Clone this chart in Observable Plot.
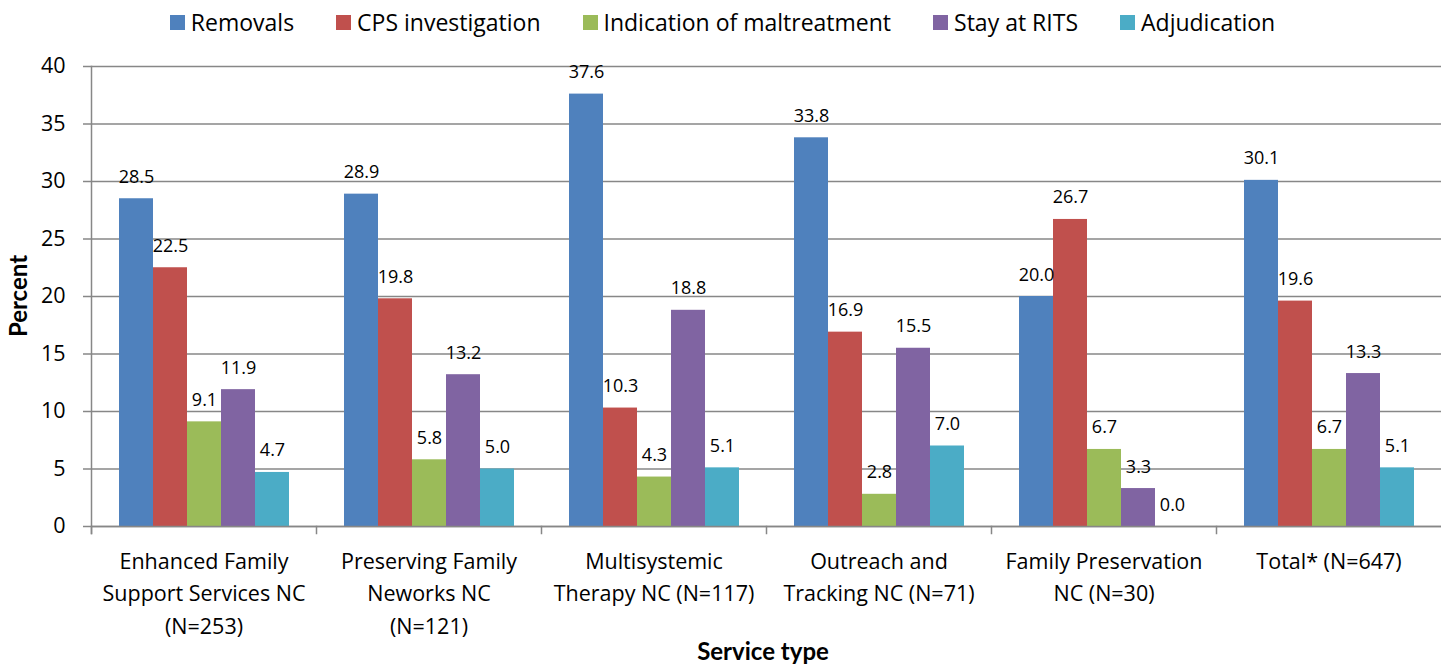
<!DOCTYPE html>
<html>
<head>
<meta charset="utf-8">
<script src="https://cdn.jsdelivr.net/npm/d3@7"></script>
<script src="https://cdn.jsdelivr.net/npm/@observablehq/plot@0.6"></script>
<style>
  html, body { margin: 0; padding: 0; background: #fff; }
  #chart { position: relative; width: 1445px; height: 666px; font-family: "Open Sans", sans-serif; color: #000; }
  #legend { display: flex; justify-content: center; align-items: center; height: 44px; gap: 42px; font-size: 23px; }
  #legend .item { display: flex; align-items: center; gap: 6px; white-space: nowrap; }
  #legend .sw { width: 15px; height: 15px; display: inline-block; }
  .title { position: absolute; font-family: Lato, sans-serif; font-weight: bold; font-size: 24px; white-space: nowrap; }
  #ytitle { left: 17px; top: 296px; transform: translate(-50%, -50%) rotate(-90deg); }
  #xtitle { left: 763px; top: 650px; transform: translate(-50%, -50%); }
  svg { display: block; }
</style>
</head>
<body>
<div id="chart">
  <div id="legend"></div>
  <div id="plot"></div>
  <div class="title" id="ytitle">Percent</div>
  <div class="title" id="xtitle">Service type</div>
</div>
<script>
const categories = [
  "Enhanced Family Support Services NC (N=253)",
  "Preserving Family Neworks NC (N=121)",
  "Multisystemic Therapy NC (N=117)",
  "Outreach and Tracking NC (N=71)",
  "Family Preservation NC (N=30)",
  "Total* (N=647)"
];
const categoryLabels = [
  "Enhanced Family\nSupport Services NC\n(N=253)",
  "Preserving Family\nNeworks NC\n(N=121)",
  "Multisystemic\nTherapy NC (N=117)",
  "Outreach and\nTracking NC (N=71)",
  "Family Preservation\nNC (N=30)",
  "Total* (N=647)"
];
const series = ["Removals", "CPS investigation", "Indication of maltreatment", "Stay at RITS", "Adjudication"];
const colors = ["#4F81BD", "#C0504D", "#9BBB59", "#8064A2", "#4BACC6"];

const removals      = [28.5, 28.9, 37.6, 33.8, 20.0, 30.1];
const cpsInvestig   = [22.5, 19.8, 10.3, 16.9, 26.7, 19.6];
const indication    = [9.1, 5.8, 4.3, 2.8, 6.7, 6.7];
const stayAtRits    = [11.9, 13.2, 18.8, 15.5, 3.3, 13.3];
const adjudication  = [4.7, 5.0, 5.1, 7.0, 0.0, 5.1];
const yTicks = [0, 5, 10, 15, 20, 25, 30, 35, 40];

const seriesValues = [removals, cpsInvestig, indication, stayAtRits, adjudication];
const data = [];
series.forEach((s, si) => {
  categories.forEach((c, ci) => data.push({cat: c, series: s, value: seriesValues[si][ci]}));
});
const labelOf = new Map(categories.map((c, i) => [c, categoryLabels[i]]));

// legend
const legend = document.getElementById("legend");
series.forEach((s, i) => {
  const item = document.createElement("div");
  item.className = "item";
  const sw = document.createElement("span");
  sw.className = "sw";
  sw.style.background = colors[i];
  const t = document.createElement("span");
  t.textContent = s;
  item.appendChild(sw); item.appendChild(t);
  legend.appendChild(item);
});

const W = 1445, H = 622, mt = 22, mb = 140, ml = 90, mr = 4;
const axisGray = "#878787";

const chart = Plot.plot({
  width: W, height: H,
  marginTop: mt, marginBottom: mb, marginLeft: ml, marginRight: mr,
  style: {fontFamily: "'Open Sans', sans-serif", fontSize: "21px", color: "#000", background: "#fff"},
  fx: {domain: categories, padding: 0, label: null},
  x: {domain: series, paddingInner: 0, paddingOuter: 0.755, axis: null},
  y: {domain: [0, 40], axis: null},
  color: {domain: series, range: colors},
  marks: [
    Plot.gridY(yTicks, {stroke: axisGray, strokeOpacity: 1, strokeWidth: 1.5}),
    Plot.barY(data, {fx: "cat", x: "series", y: "value", fill: "series"}),
    Plot.ruleY([0], {stroke: axisGray, strokeWidth: 1.5}),
    Plot.text(data, {fx: "cat", x: "series", y: "value", text: d => d.value.toFixed(1),
      dy: -16, lineAnchor: "bottom", fontSize: 18, fill: "#000"}),
    Plot.axisY(yTicks, {tickSize: 8, tickPadding: 18, fontSize: 21.5, label: null, stroke: axisGray, fill: "#000", strokeWidth: 1.5}),
    Plot.frame({anchor: "left", facetAnchor: "left", insetBottom: -7, stroke: axisGray, strokeWidth: 1.5}),
    Plot.frame({anchor: "left", insetTop: H - mt - mb, insetBottom: -7, stroke: axisGray, strokeWidth: 1.5}),
    Plot.axisFx({anchor: "bottom", tickSize: 0, tickPadding: 19, fontSize: 21.5, lineHeight: 1.52,
      tickFormat: d => labelOf.get(d), label: null, fill: "#000"})
  ]
});
document.getElementById("plot").appendChild(chart);
</script>
</body>
</html>
